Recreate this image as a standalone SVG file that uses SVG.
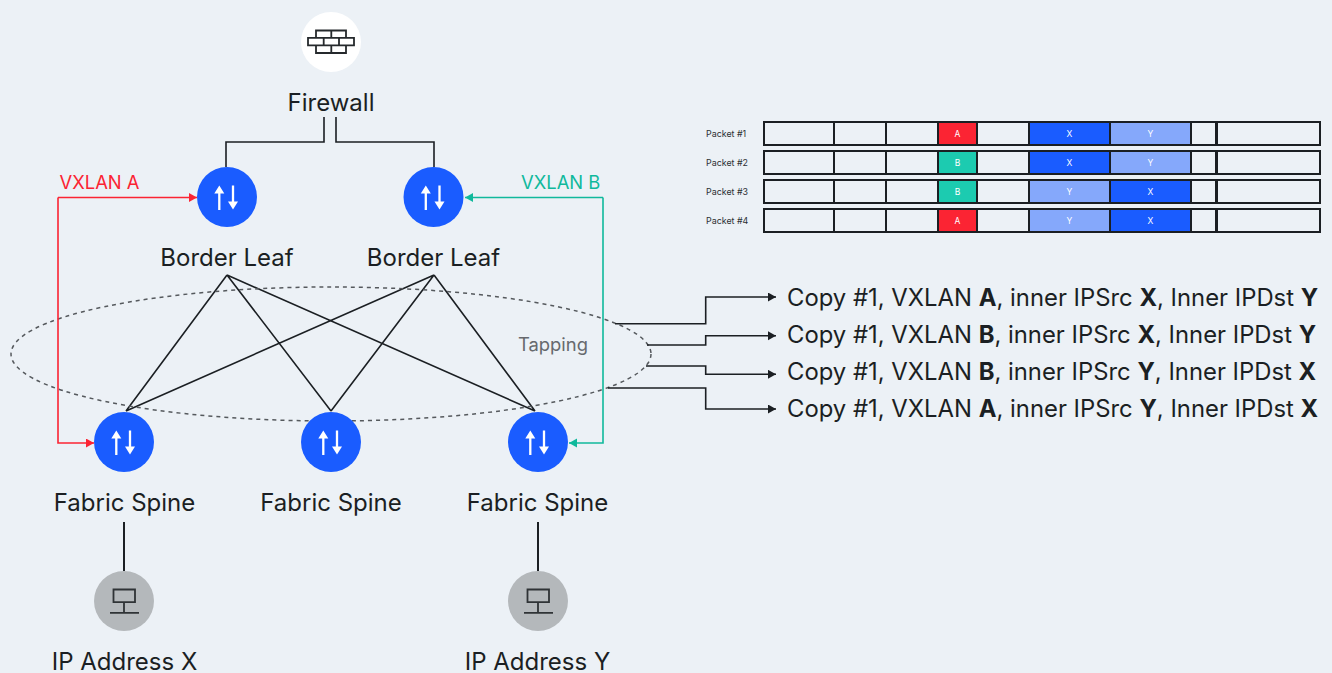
<svg xmlns="http://www.w3.org/2000/svg" width="1332" height="673" viewBox="0 0 1332 673">
<style>
text{font-family:Inter,"Noto Sans","Liberation Sans",sans-serif;fill:#1b1f23}
.lbl{font-size:24px;text-anchor:middle}
.copy{font-size:23.85px}
.copy tspan{font-weight:700}
.tag{font-size:18.400px}
.pk{font-size:8.900px;fill:#2b2f33}
.c{font-size:8.500px;fill:#fff;text-anchor:middle}
.ln{fill:none;stroke:#1b1f23;stroke-width:1.600}
.cell{fill:none;stroke:#1b1f23;stroke-width:2}
.end{fill:none;stroke:#1b1f23;stroke-width:3}
.sw{fill:none;stroke:#fff;stroke-width:2.300}
.bl{fill:#1a5cff}
.gy{fill:#b4b8bb}
.ic{fill:none;stroke:#25292c;stroke-width:1.800}
.red{fill:none;stroke:#fb2433;stroke-width:1.600}
.grn{fill:none;stroke:#10b99c;stroke-width:1.600}
</style>
<defs>
<marker id="ab" markerUnits="userSpaceOnUse" markerWidth="10" markerHeight="10" refX="8" refY="4.500" orient="auto"><path d="M0 0L8 4.500L0 9Z" fill="#1b1f23"/></marker>
<marker id="ar" markerUnits="userSpaceOnUse" markerWidth="10" markerHeight="10" refX="8" refY="4.500" orient="auto"><path d="M0 0L8 4.500L0 9Z" fill="#fb2433"/></marker>
<marker id="ag" markerUnits="userSpaceOnUse" markerWidth="10" markerHeight="10" refX="8" refY="4.500" orient="auto"><path d="M0 0L8 4.500L0 9Z" fill="#10b99c"/></marker>
<g id="sw"><path class="sw" d="M-7.700 -5V13M6 -11.500V6"/><path d="M-12.700 -3.500L-7.700 -11.500L-2.700 -3.500ZM1 4.500H11L6 12.500Z" fill="#fff"/></g>
<g id="pc"><path d="M-10.500 -11.500H11V1.200H-10.500ZM0 1.200V11.800M-14 11.800H15" fill="none" stroke="#2f3336" stroke-width="1.800"/></g>
</defs>
<rect width="1332" height="673" fill="#ecf1f6"/>
<g id="connectors">
<path class="ln" d="M324 117V142H226V167M336 117V142H434V167"/>
<path class="ln" d="M227 275L126 411M227 275L331 411M227 275L535 411M434 275L126 411M434 275L331 411M434 275L535 411"/>
<ellipse cx="331" cy="354" rx="320" ry="67" fill="none" stroke="#55595d" stroke-width="1.500" stroke-dasharray="4 4"/>
<path class="red" d="M58 197.500H197" marker-end="url(#ar)"/>
<path class="red" d="M58 197.500V443H94" marker-end="url(#ar)"/>
<path class="grn" d="M603 197.500H465" marker-end="url(#ag)"/>
<path class="grn" d="M603 197.500V443H569" marker-end="url(#ag)"/>
<path class="ln" marker-end="url(#ab)" d="M615 323.700H705.700V297H776"/>
<path class="ln" marker-end="url(#ab)" d="M647 345H705.700V335.700H776"/>
<path class="ln" marker-end="url(#ab)" d="M646 366H705.700V374.300H776"/>
<path class="ln" marker-end="url(#ab)" d="M608 388H705.700V409H776"/>
<path d="M124 522V571M538 522V571" fill="none" stroke="#1b1f23" stroke-width="2"/>
</g>
<g id="firewall"><circle cx="331" cy="42" r="30" fill="#fff"/>
<path class="ic" d="M316 30.500H346V37.800H316ZM331.300 30.500V37.800M308 37.800H354V45.300H308ZM323.700 37.800V45.300M339 37.800V45.300M316 45.300H346V53H316ZM331.300 45.300V53"/>
<text class="lbl" x="331" y="111">Firewall</text></g>
<g id="leaf1"><circle class="bl" cx="227" cy="197" r="30"/><use href="#sw" x="227" y="197"/><text class="lbl" x="227" y="266">Border Leaf</text></g>
<g id="leaf2"><circle class="bl" cx="433.500" cy="197" r="30"/><use href="#sw" x="433.500" y="197"/><text class="lbl" x="433.500" y="266">Border Leaf</text></g>
<g id="spine1"><circle class="bl" cx="124" cy="442" r="30"/><use href="#sw" x="124" y="442"/><text class="lbl" x="124.500" y="511">Fabric Spine</text></g>
<g id="spine2"><circle class="bl" cx="331" cy="442" r="30"/><use href="#sw" x="331" y="442"/><text class="lbl" x="331" y="511">Fabric Spine</text></g>
<g id="spine3"><circle class="bl" cx="538" cy="442" r="30"/><use href="#sw" x="538" y="442"/><text class="lbl" x="537.500" y="511">Fabric Spine</text></g>
<g id="hostx"><circle class="gy" cx="124" cy="601" r="30"/><use href="#pc" x="124" y="601"/><text class="lbl" x="124.500" y="670">IP Address X</text></g>
<g id="hosty"><circle class="gy" cx="538" cy="601" r="30"/><use href="#pc" x="538" y="601"/><text class="lbl" x="537.500" y="670">IP Address Y</text></g>
<g id="labels">
<text class="tag" x="59.500" y="189" style="fill:#fb2433">VXLAN A</text>
<text class="tag" x="521" y="189" style="fill:#10b99c">VXLAN B</text>
<text class="tag" x="518" y="350.500" style="fill:#66696d">Tapping</text>
<text class="copy" x="787" y="305.500">Copy #1, VXLAN <tspan>A</tspan>, inner IPSrc <tspan>X</tspan>, Inner IPDst <tspan>Y</tspan></text>
<text class="copy" x="787" y="342.500">Copy #1, VXLAN <tspan>B</tspan>, inner IPSrc <tspan>X</tspan>, Inner IPDst <tspan>Y</tspan></text>
<text class="copy" x="787" y="379.500">Copy #1, VXLAN <tspan>B</tspan>, inner IPSrc <tspan>Y</tspan>, Inner IPDst <tspan>X</tspan></text>
<text class="copy" x="787" y="417">Copy #1, VXLAN <tspan>A</tspan>, inner IPSrc <tspan>Y</tspan>, Inner IPDst <tspan>X</tspan></text>
</g>
<g id="packets">
<g id="packet1"><text class="pk" x="706" y="136.500">Packet #1</text>
<rect x="938" y="122" width="39" height="23" fill="#fb2433"/><rect x="1029" y="122" width="81" height="23" fill="#1a5cff"/><rect x="1110" y="122" width="81" height="23" fill="#85a8fb"/>
<path class="cell" d="M764 122H1320V145H764ZM834 122V145M886 122V145M938 122V145M977 122V145M1029 122V145M1110 122V145M1191 122V145"/><path class="end" d="M1216.500 122V145"/>
<text class="c" x="957.500" y="136.500">A</text><text class="c" x="1069.500" y="136.500">X</text><text class="c" x="1150.500" y="136.500">Y</text></g>
<g id="packet2"><text class="pk" x="706" y="165.500">Packet #2</text>
<rect x="938" y="151" width="39" height="23" fill="#1ccbb0"/><rect x="1029" y="151" width="81" height="23" fill="#1a5cff"/><rect x="1110" y="151" width="81" height="23" fill="#85a8fb"/>
<path class="cell" d="M764 151H1320V174H764ZM834 151V174M886 151V174M938 151V174M977 151V174M1029 151V174M1110 151V174M1191 151V174"/><path class="end" d="M1216.500 151V174"/>
<text class="c" x="957.500" y="165.500">B</text><text class="c" x="1069.500" y="165.500">X</text><text class="c" x="1150.500" y="165.500">Y</text></g>
<g id="packet3"><text class="pk" x="706" y="194.500">Packet #3</text>
<rect x="938" y="180" width="39" height="23" fill="#1ccbb0"/><rect x="1029" y="180" width="81" height="23" fill="#85a8fb"/><rect x="1110" y="180" width="81" height="23" fill="#1a5cff"/>
<path class="cell" d="M764 180H1320V203H764ZM834 180V203M886 180V203M938 180V203M977 180V203M1029 180V203M1110 180V203M1191 180V203"/><path class="end" d="M1216.500 180V203"/>
<text class="c" x="957.500" y="194.500">B</text><text class="c" x="1069.500" y="194.500">Y</text><text class="c" x="1150.500" y="194.500">X</text></g>
<g id="packet4"><text class="pk" x="706" y="223.500">Packet #4</text>
<rect x="938" y="209" width="39" height="23" fill="#fb2433"/><rect x="1029" y="209" width="81" height="23" fill="#85a8fb"/><rect x="1110" y="209" width="81" height="23" fill="#1a5cff"/>
<path class="cell" d="M764 209H1320V232H764ZM834 209V232M886 209V232M938 209V232M977 209V232M1029 209V232M1110 209V232M1191 209V232"/><path class="end" d="M1216.500 209V232"/>
<text class="c" x="957.500" y="223.500">A</text><text class="c" x="1069.500" y="223.500">Y</text><text class="c" x="1150.500" y="223.500">X</text></g>
</g>
</svg>
